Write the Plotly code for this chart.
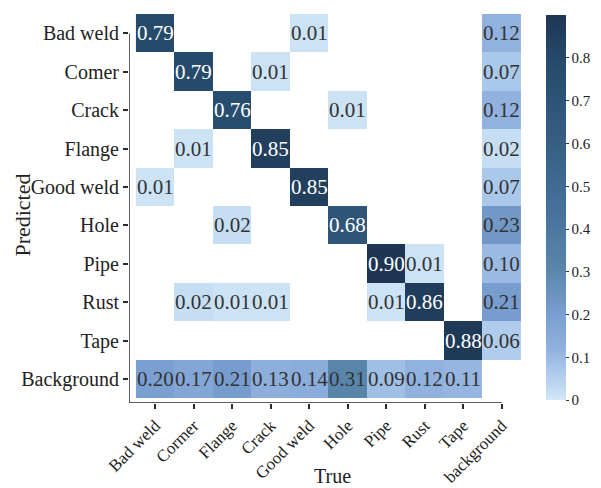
import plotly.graph_objects as go

true_labels = ["Bad weld", "Cormer", "Flange", "Crack", "Good weld", "Hole", "Pipe", "Rust", "Tape", "background"]
pred_labels = ["Bad weld", "Comer", "Crack", "Flange", "Good weld", "Hole", "Pipe", "Rust", "Tape", "Background"]

N = None
row_bad_weld  = [0.79, N, N, N, 0.01, N, N, N, N, 0.12]
row_comer     = [N, 0.79, N, 0.01, N, N, N, N, N, 0.07]
row_crack     = [N, N, 0.76, N, N, 0.01, N, N, N, 0.12]
row_flange    = [N, 0.01, N, 0.85, N, N, N, N, N, 0.02]
row_good_weld = [0.01, N, N, N, 0.85, N, N, N, N, 0.07]
row_hole      = [N, N, 0.02, N, N, 0.68, N, N, N, 0.23]
row_pipe      = [N, N, N, N, N, N, 0.90, 0.01, N, 0.10]
row_rust      = [N, 0.02, 0.01, 0.01, N, N, 0.01, 0.86, N, 0.21]
row_tape      = [N, N, N, N, N, N, N, N, 0.88, 0.06]
row_background = [0.20, 0.17, 0.21, 0.13, 0.14, 0.31, 0.09, 0.12, 0.11, N]

z = [row_bad_weld, row_comer, row_crack, row_flange, row_good_weld,
     row_hole, row_pipe, row_rust, row_tape, row_background]

colorbar_ticks = [0, 0.1, 0.2, 0.3, 0.4, 0.5, 0.6, 0.7, 0.8]

FONT = "Liberation Serif, Times New Roman, serif"
ZMAX = 0.9
FS = 21

colorscale = [
    [0.0, "#d3e7f7"],
    [0.011, "#cce2f5"],
    [0.08, "#a9c7ea"],
    [0.13, "#92b2de"],
    [0.22, "#7b9fd2"],
    [0.34, "#5a86ab"],
    [0.5, "#46709a"],
    [0.75, "#2f5779"],
    [0.88, "#264a6b"],
    [1.0, "#1e3653"],
]

xs = list(range(len(true_labels)))
ys = list(range(len(pred_labels)))

fig = go.Figure()
fig.add_trace(go.Heatmap(
    z=z, x=xs, y=ys,
    zmin=0, zmax=ZMAX,
    colorscale=colorscale,
    xgap=0, ygap=0,
    hoverongaps=False,
    colorbar=dict(
        thickness=20, len=0.99, lenmode="fraction",
        x=1.064, xanchor="left", y=0.997, yanchor="top",
        xpad=0, ypad=0,
        outlinewidth=0,
        tickvals=colorbar_ticks,
        ticktext=[("%g" % v) for v in colorbar_ticks],
        ticks="outside", ticklen=3, tickcolor="#333333",
        ticklabeloverflow="allow",
        tickfont=dict(family=FONT, size=15, color="#222222"),
    ),
))

annotations = []
for i, row in enumerate(z):
    for j, v in enumerate(row):
        if v is None:
            continue
        annotations.append(dict(
            x=j, y=i, xref="x", yref="y", text="%.2f" % v, showarrow=False,
            font=dict(family=FONT, size=FS, color="white" if v >= 0.5 else "#333333"),
        ))

annotations.append(dict(
    x=0.52, y=-0.188, xref="paper", yref="paper", text="True", showarrow=False,
    xanchor="center", yanchor="middle",
    font=dict(family=FONT, size=20, color="#222222"),
))
annotations.append(dict(
    x=-0.3087, y=0.483, xref="paper", yref="paper", text="Predicted", showarrow=False,
    xanchor="left", yanchor="middle", textangle=-90,
    font=dict(family=FONT, size=22, color="#222222"),
))

n = len(true_labels)
axis_color = "#2e2a2a"
shapes = [
    dict(type="line", xref="x", yref="y", x0=-0.68, x1=n - 1, y0=9.62, y1=9.62,
         line=dict(color=axis_color, width=1.5)),
    dict(type="line", xref="x", yref="y", x0=-0.68, x1=-0.68, y0=9.62, y1=0,
         line=dict(color=axis_color, width=1.5)),
]

# page body has an 8px margin, so the figure is 8px smaller on each axis
fig.update_layout(
    width=593, height=480,
    margin=dict(l=121, r=80, t=6, b=85, autoexpand=False),
    paper_bgcolor="white", plot_bgcolor="white",
    font=dict(family=FONT, size=FS, color="#222222"),
    annotations=annotations,
    shapes=shapes,
    xaxis=dict(
        range=[-0.68, 9.5], tickvals=xs, ticktext=true_labels, tickangle=-45,
        showgrid=False, zeroline=False, showline=False, automargin=False,
        ticks="outside", ticklen=5, tickcolor=axis_color, tickwidth=1.5,
        tickfont=dict(family=FONT, size=17, color="#222222"),
    ),
    yaxis=dict(
        range=[9.62, -0.5], tickvals=ys, ticktext=pred_labels,
        showgrid=False, zeroline=False, showline=False, automargin=False,
        ticks="outside", ticklen=5, tickcolor=axis_color, tickwidth=1.5,
        tickfont=dict(family=FONT, size=20, color="#222222"),
    ),
)

fig.write_html("out.html")
